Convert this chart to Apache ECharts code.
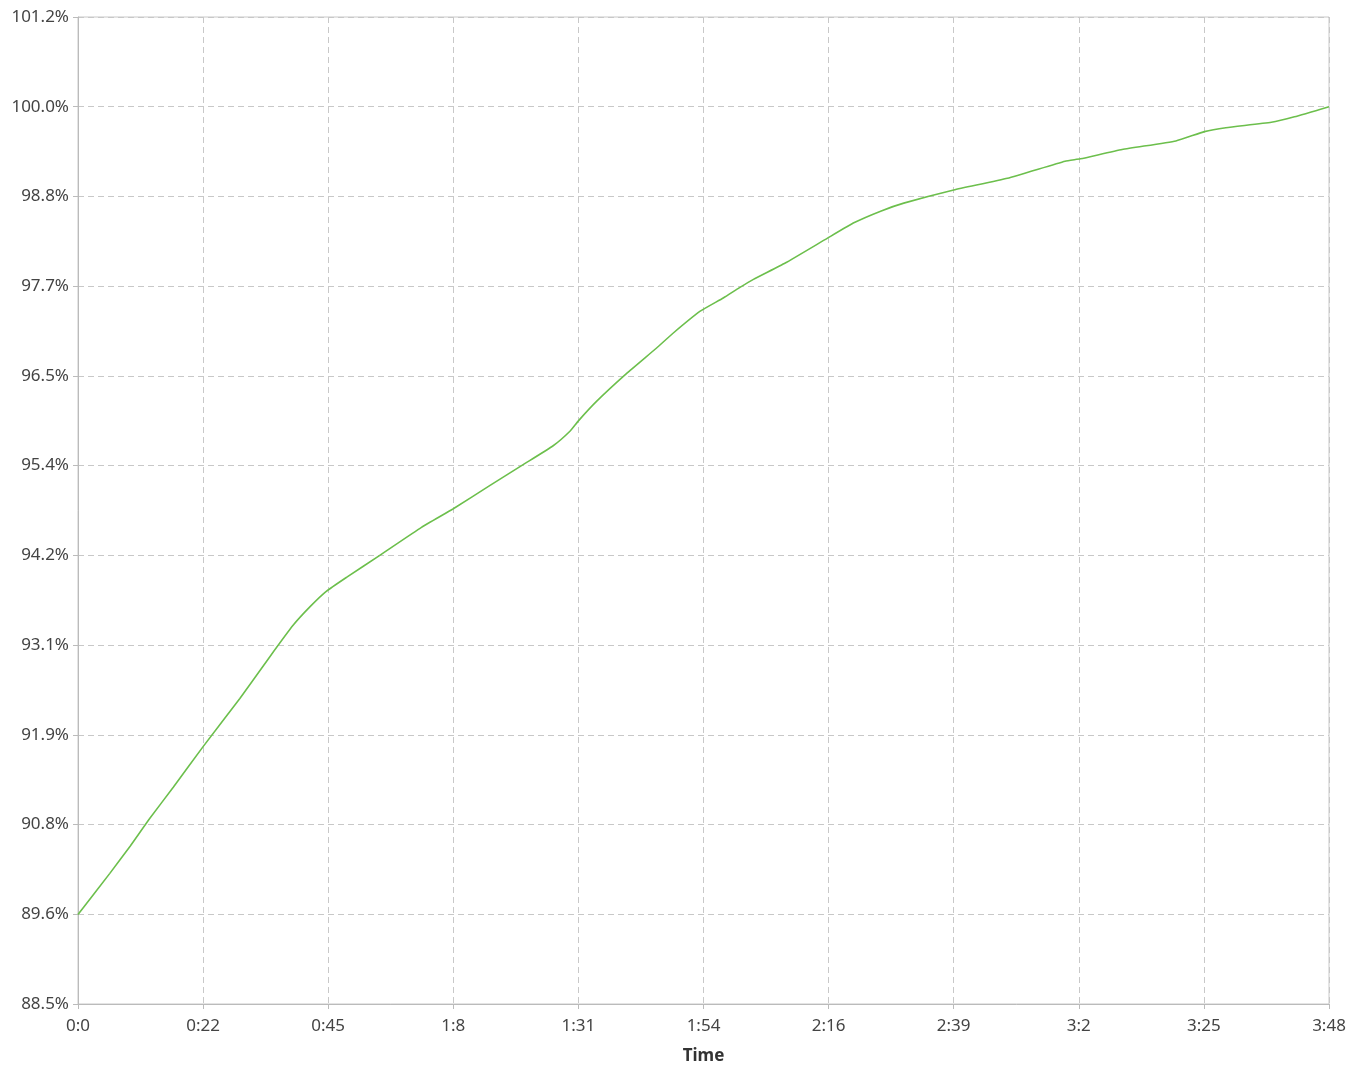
<!DOCTYPE html>
<html>
<head>
<meta charset="utf-8">
<title>Time curve</title>
<script src="https://cdn.jsdelivr.net/npm/echarts@6/dist/echarts.min.js"></script>
<style>
  html, body { margin: 0; padding: 0; background: #fff; }
  #chart { width: 1364px; height: 1070px; }
</style>
</head>
<body>
<div id="chart"></div>
<script>
// time in seconds
const times = [0, 5.8, 9.5, 13.1, 17.4, 22.8, 29.5, 35.0, 39.2, 42.3, 45.3, 49.0, 55.0, 62.6, 68.4,
  75.1, 81.2, 86.6, 89.7, 91.2, 94.5, 100.0, 105.5, 108.5, 113.4, 117.6, 120.5, 123.1, 128.9, 136.6,
  141.5, 146.4, 150.5, 159.6, 169.4, 179.9, 182.7, 190.3, 200.1, 205.3, 209.2, 217.5, 221.7, 228];
// percent values
const values = [89.61, 90.14, 90.49, 90.85, 91.25, 91.77, 92.39, 92.93, 93.33, 93.57, 93.77, 93.95, 94.23, 94.59, 94.83,
  95.13, 95.40, 95.64, 95.83, 95.96, 96.21, 96.57, 96.90, 97.09, 97.37, 97.54, 97.67, 97.78, 97.99, 98.31,
  98.51, 98.66, 98.76, 98.93, 99.08, 99.30, 99.33, 99.45, 99.56, 99.68, 99.73, 99.80, 99.87, 100.0];
const yTicks = [88.46, 89.614, 90.768, 91.922, 93.076, 94.23, 95.384, 96.538, 97.692, 98.846, 100.0, 101.154];
const xMax = 228;
const xStep = 22.8;

const chart = echarts.init(document.getElementById('chart'));
const font = 'Noto Sans, Open Sans, sans-serif';

const option = {
  animation: false,
  backgroundColor: '#fff',
  grid: {
    left: 78,
    right: 35,
    top: 17,
    bottom: 64,
    show: true,
    borderColor: '#c8c8c8',
    borderWidth: 1
  },
  xAxis: {
    type: 'value',
    min: 0,
    max: xMax,
    interval: xStep,
    name: 'Time',
    nameLocation: 'middle',
    nameGap: 44,
    nameTextStyle: { fontFamily: font, fontSize: 17, fontWeight: 'bold', color: '#333' },
    axisLine: { show: true, lineStyle: { color: '#bbb' } },
    axisTick: { show: true, length: 5, lineStyle: { color: '#bbb' } },
    axisLabel: {
      margin: 14,
      fontFamily: font,
      fontSize: 17,
      color: '#444',
      formatter: v => {
        const s = Math.floor(v + 1e-6);
        return Math.floor(s / 60) + ':' + (s % 60);
      }
    },
    splitLine: { show: true, lineStyle: { color: '#c8c8c8', type: [6, 4] } }
  },
  yAxis: {
    type: 'value',
    min: yTicks[0],
    max: yTicks[yTicks.length - 1],
    axisLine: { show: true, lineStyle: { color: '#bbb' } },
    axisTick: { show: true, length: 5, lineStyle: { color: '#bbb' }, customValues: yTicks },
    axisLabel: {
      margin: 9,
      fontFamily: font,
      fontSize: 17,
      color: '#444',
      customValues: yTicks,
      formatter: v => v.toFixed(1) + '%'
    },
    splitLine: { show: true, lineStyle: { color: '#c8c8c8', type: [6, 4] } }
  },
  series: [{
    type: 'line',
    data: times.map((t, i) => [t, values[i]]),
    showSymbol: false,
    smooth: 0.15,
    lineStyle: { color: '#6cbf4c', width: 1.6 },
    itemStyle: { color: '#6cbf4c' }
  }]
};

chart.setOption(option);
</script>
</body>
</html>
